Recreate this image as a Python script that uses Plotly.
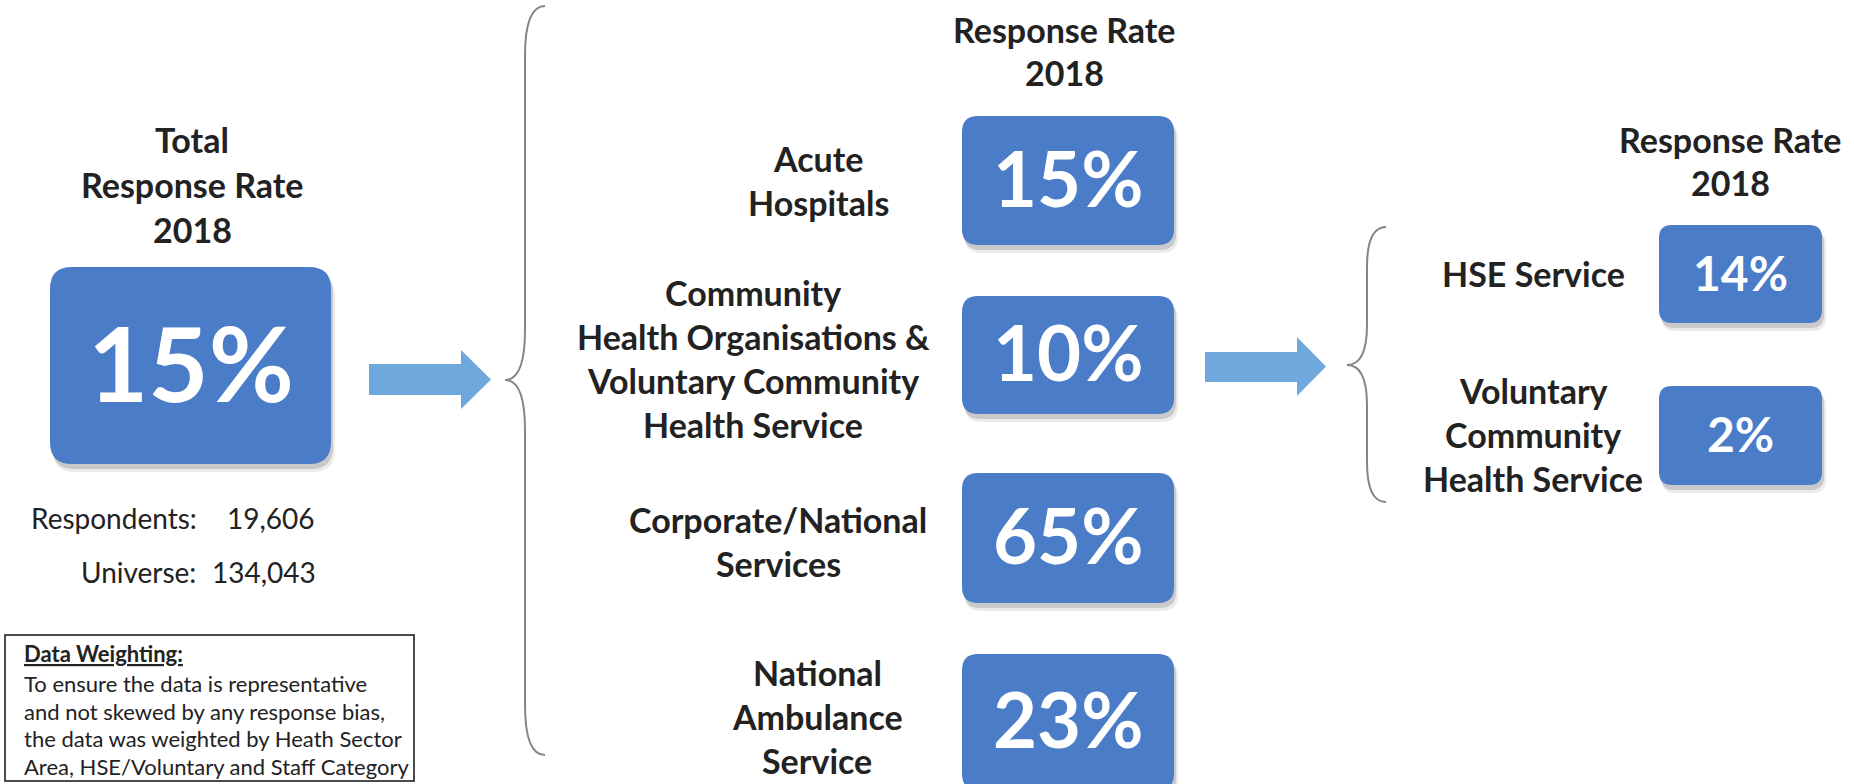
"""
Response rate infographic (2018) rebuilt with Plotly shapes and annotations.
"""
import plotly.graph_objects as go

# ---- data -------------------------------------------------------------
total_title = ["Total", "Response Rate", "2018"]
total_rate = 15
respondents = "19,606"
universe = "134,043"

column_title = ["Response Rate", "2018"]

sector_labels = [
    ["Acute", "Hospitals"],
    ["Community", "Health Organisations &", "Voluntary Community", "Health Service"],
    ["Corporate/National", "Services"],
    ["National", "Ambulance", "Service"],
]
sector_rates = [15, 10, 65, 23]

service_labels = [
    ["HSE Service"],
    ["Voluntary", "Community", "Health Service"],
]
service_rates = [14, 2]

weighting_title = "Data Weighting:"
weighting_lines = [
    "To ensure the data is representative",
    "and not skewed by any response bias,",
    "the data was weighted by Heath Sector",
    "Area, HSE/Voluntary and Staff Category",
]

# ---- style / layout ----------------------------------------------------
W, H = 1854, 784
BOX = "#4A7CC8"
ARROW = "#6FA8DC"
BRACE = "#858585"
TEXT = "#222222"
FONT = "Lato"

# box geometry in page pixels
total_box = (50, 331, 267, 464)
sector_x = (962, 1174)
sector_y = [(116, 245), (296, 414), (473, 603), (654, 790)]
sector_label_x = [818, 753, 778, 817]
sector_label_y = [180, 358, 541, 716]
service_x = (1659, 1822)
service_y = [(225, 323), (386, 485)]
service_label_x = 1533


def rounded_rect(x0, y0, x1, y1, r):
    return (f"M{x0 + r},{y0} L{x1 - r},{y0} Q{x1},{y0} {x1},{y0 + r} "
            f"L{x1},{y1 - r} Q{x1},{y1} {x1 - r},{y1} L{x0 + r},{y1} "
            f"Q{x0},{y1} {x0},{y1 - r} L{x0},{y0 + r} Q{x0},{y0} {x0 + r},{y0} Z")


def arrow(x0, x1, xh, ys0, ys1, yh0, yh1):
    ym = (yh0 + yh1) / 2
    return (f"M{x0},{ys0} L{xh},{ys0} L{xh},{yh0} L{x1},{ym} "
            f"L{xh},{yh1} L{xh},{ys1} L{x0},{ys1} Z")


def brace(xe, xv, xt, y0, ym, y1, c):
    return (f"M{xe},{y0} Q{xv},{y0} {xv},{y0 + c} L{xv},{ym - c} "
            f"Q{xv},{ym} {xt},{ym} Q{xv},{ym} {xv},{ym + c} "
            f"L{xv},{y1 - c} Q{xv},{y1} {xe},{y1}")


fig = go.Figure()
shapes = []
annotations = []


def add_box(x0, x1, y0, y1, r, text, size):
    # soft drop shadow then the blue tile
    shapes.append(dict(type="path", path=rounded_rect(x0 + 3, y0 + 7, x1 + 4, y1 + 8, r),
                       fillcolor="rgba(0,0,0,0.08)", line=dict(width=0), layer="below"))
    shapes.append(dict(type="path", path=rounded_rect(x0 + 2, y0 + 4, x1 + 2, y1 + 5, r),
                       fillcolor="rgba(0,0,0,0.14)", line=dict(width=0), layer="below"))
    shapes.append(dict(type="path", path=rounded_rect(x0, y0, x1, y1, r),
                       fillcolor=BOX, line=dict(width=0), layer="below"))
    annotations.append(dict(x=(x0 + x1) / 2, y=(y0 + y1) / 2 - 0.04 * size, text=text,
                            showarrow=False, xanchor="center", yanchor="middle",
                            font=dict(family=FONT, size=size, color="white", weight=700)))


def add_lines(x, yc, lines, size, spacing, bold=True, anchor="center"):
    n = len(lines)
    for i, line in enumerate(lines):
        y = yc + (i - (n - 1) / 2) * spacing
        annotations.append(dict(x=x, y=y, text=line, showarrow=False,
                                xanchor=anchor, yanchor="middle",
                                font=dict(family=FONT, size=size, color=TEXT,
                                          weight=700 if bold else 400)))


def add_plain(x, y, text, anchor="right"):
    annotations.append(dict(x=x, y=y, text=text, showarrow=False, xanchor=anchor,
                            yanchor="middle", font=dict(family=FONT, size=28, color=TEXT)))


# left column
add_lines(192, 184, total_title, 34, 45)
add_box(*total_box[:2], *total_box[2:], 22, f"{total_rate}%", 104)
add_plain(199, 518, "Respondents:")
add_plain(317, 518, respondents)
add_plain(198, 572, "Universe:")
add_plain(318, 572, universe)

# data weighting note
shapes.append(dict(type="rect", x0=5, x1=414, y0=635, y1=781,
                   line=dict(color="#111111", width=1.5), fillcolor="white"))
annotations.append(dict(x=22, y=653, text=f"<b><u>{weighting_title}</u></b>", showarrow=False,
                        xanchor="left", yanchor="middle",
                        font=dict(family=FONT, size=22, color=TEXT)))
add_lines(22, 725, weighting_lines, 22, 27.5, bold=False, anchor="left")

# arrows and braces
shapes.append(dict(type="path", path=arrow(369, 491, 461, 364, 395, 350, 409),
                   fillcolor=ARROW, line=dict(width=0)))
shapes.append(dict(type="path", path=arrow(1205, 1326, 1297, 352, 382, 337, 396),
                   fillcolor=ARROW, line=dict(width=0)))
shapes.append(dict(type="path", path=brace(545, 525, 505, 6, 380, 755, 50),
                   line=dict(color=BRACE, width=2)))
shapes.append(dict(type="path", path=brace(1386, 1367, 1347, 227, 365, 502, 40),
                   line=dict(color=BRACE, width=2)))

# middle column
add_lines(1064, 51, column_title, 34, 43)
for lab, rate, lx, ly, (y0, y1) in zip(sector_labels, sector_rates, sector_label_x,
                                       sector_label_y, sector_y):
    add_box(sector_x[0], sector_x[1], y0, y1, 16, f"{rate}%", 76)
    add_lines(lx, ly, lab, 34, 44)

# right column
add_lines(1730, 161, column_title, 34, 43)
for lab, rate, (y0, y1) in zip(service_labels, service_rates, service_y):
    add_box(service_x[0], service_x[1], y0, y1, 13, f"{rate}%", 48)
    add_lines(service_label_x, (y0 + y1) / 2 - 1, lab, 34, 44)

fig.update_layout(
    width=W, height=H,
    margin=dict(l=0, r=0, t=0, b=0),
    paper_bgcolor="white", plot_bgcolor="white",
    xaxis=dict(range=[0, W], visible=False, fixedrange=True),
    yaxis=dict(range=[H, 0], visible=False, fixedrange=True),
    shapes=shapes, annotations=annotations,
    showlegend=False,
)

# drop the default 8px page margin so the figure fills the window exactly
fig.write_html("out.html", config={"displayModeBar": False},
               post_script="document.body.style.margin='0';")
